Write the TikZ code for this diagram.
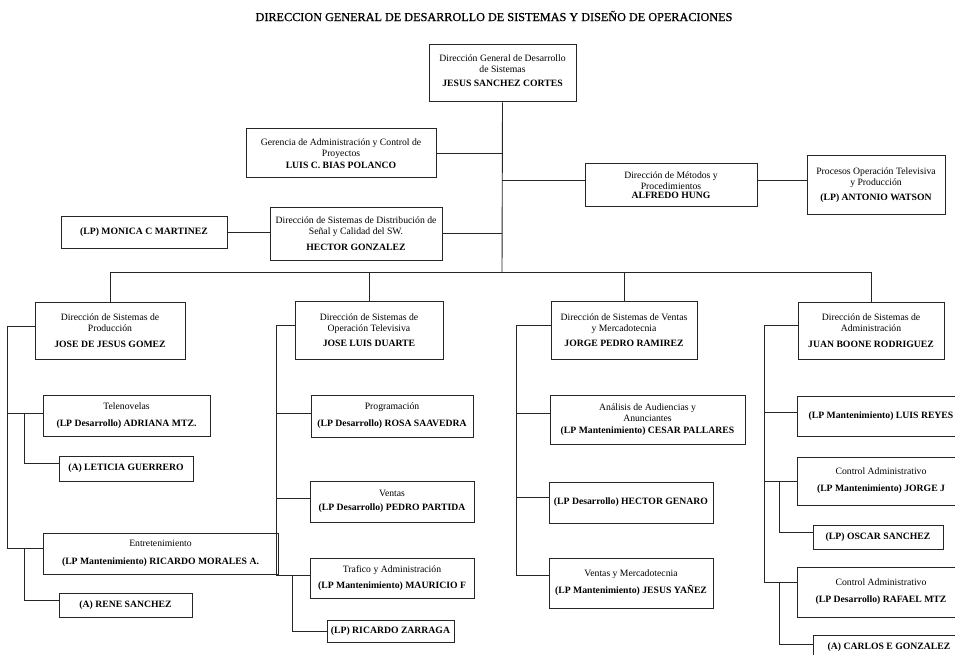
\documentclass[tikz,border=0pt]{standalone}
\usepackage{fontspec}
\setmainfont{Liberation Serif}
\newfontfamily\headfont[FakeBold=0.8]{Liberation Serif}
\newcommand{\bname}[1]{\textbf{#1}}
\tikzset{
  orgbox/.style={draw=black!85, line width=1pt, fill=white, inner sep=0pt, align=center,
    font=\fontsize{9.7}{11.2}\selectfont},
  link/.style={draw=black!85, line width=0.9pt},
}
\begin{document}
\begin{tikzpicture}[x=1pt,y=-1pt]
\useasboundingbox (0,0) rectangle (955,655);
\fill[white] (0,0) rectangle (955,655);
\clip (0,0) rectangle (955,655);

% title
\node[font=\headfont\fontsize{12.2}{14}\selectfont] (title) at (494,16)
  {DIRECCION GENERAL DE DESARROLLO DE SISTEMAS Y DISEÑO DE OPERACIONES};

% upper part of the chart
\node[orgbox, minimum width=147pt, minimum height=57pt] (top) at (502.5,73.5)
  {Dirección General de Desarrollo\\de Sistemas\\[3pt]\bname{JESUS SANCHEZ CORTES}\\[-5pt]};
\node[orgbox, minimum width=190pt, minimum height=49pt] (ger) at (341,153.5)
  {Gerencia de Administración y Control de\\Proyectos\\\bname{LUIS C. BIAS POLANCO}};
\node[orgbox, minimum width=172pt, minimum height=42pt] (met) at (671,185)
  {Dirección de Métodos y\\Procedimientos\\[-2.5pt]\bname{ALFREDO HUNG}};
\node[orgbox, minimum width=138pt, minimum height=58pt] (proc) at (876,185)
  {Procesos Operación Televisiva\\y Producción\\[4pt]\bname{(LP) ANTONIO WATSON}};
\node[orgbox, minimum width=172pt, minimum height=53pt] (dist) at (356,233.5)
  {Dirección de Sistemas de Distribución de\\Señal y Calidad del SW.\\[5pt]\bname{HECTOR GONZALEZ}};
\node[orgbox, minimum width=166pt, minimum height=32pt] (mon) at (144,232)
  {\bname{(LP) MONICA C MARTINEZ}};

% column 1
\node[orgbox, minimum width=150pt, minimum height=57pt] (d1) at (110,330.5)
  {Dirección de Sistemas de\\Producción\\[4pt]\bname{JOSE DE JESUS GOMEZ}};
\node[orgbox, minimum width=167pt, minimum height=41pt] (tel) at (126.5,415.5)
  {Telenovelas\\[6pt]\bname{(LP Desarrollo) ADRIANA MTZ.}};
\node[orgbox, minimum width=134pt, minimum height=25pt] (let) at (126,468.5)
  {\bname{(A) LETICIA GUERRERO}};
\node[orgbox, minimum width=235pt, minimum height=41pt] (ent) at (160.5,553.5)
  {Entretenimiento\\[7pt]\bname{(LP Mantenimiento) RICARDO MORALES A.}};
\node[orgbox, minimum width=133pt, minimum height=24pt] (ren) at (125.5,605)
  {\bname{(A) RENE SANCHEZ}};

% column 2
\node[orgbox, minimum width=148pt, minimum height=58pt] (d2) at (369,330)
  {Dirección de Sistemas de\\Operación Televisiva\\[4pt]\bname{JOSE LUIS DUARTE}};
\node[orgbox, minimum width=162pt, minimum height=42pt] (prog) at (392,416)
  {Programación\\[6pt]\bname{(LP Desarrollo) ROSA SAAVEDRA}};
\node[orgbox, minimum width=164pt, minimum height=41pt] (ven) at (392,501.5)
  {Ventas\\[3pt]\bname{(LP Desarrollo) PEDRO PARTIDA}};
\node[orgbox, minimum width=164pt, minimum height=40pt] (tra) at (392,578)
  {Trafico y Administración\\[5pt]\bname{(LP Mantenimiento) MAURICIO F}};
\node[orgbox, minimum width=127pt, minimum height=22pt] (zar) at (390.5,631)
  {\bname{(LP) RICARDO ZARRAGA}};

% column 3
\node[orgbox, minimum width=146pt, minimum height=58pt] (d3) at (624,330)
  {Dirección de Sistemas de Ventas\\y Mercadotecnia\\[4pt]\bname{JORGE PEDRO RAMIREZ}};
\node[orgbox, minimum width=195pt, minimum height=49pt] (ana) at (647.5,419.5)
  {Análisis de Audiencias y\\Anunciantes\\\bname{(LP Mantenimiento) CESAR PALLARES}};
\node[orgbox, minimum width=164pt, minimum height=41pt] (hg) at (631,502.5)
  {\bname{(LP Desarrollo) HECTOR GENARO}};
\node[orgbox, minimum width=164pt, minimum height=50pt] (vm) at (631,583)
  {Ventas y Mercadotecnia\\[6pt]\bname{(LP Mantenimiento) JESUS YAÑEZ}};

% column 4
\node[orgbox, minimum width=146pt, minimum height=57pt] (d4) at (871,330.5)
  {Dirección de Sistemas de\\Administración\\[4pt]\bname{JUAN BOONE RODRIGUEZ}};
\node[orgbox, minimum width=168pt, minimum height=40pt] (lr) at (881,416)
  {\bname{(LP Mantenimiento) LUIS REYES}};
\node[orgbox, minimum width=168pt, minimum height=48pt] (ca1) at (881,481)
  {Control Administrativo\\[6pt]\bname{(LP Mantenimiento) JORGE J}};
\node[orgbox, minimum width=130pt, minimum height=24pt] (osc) at (878,537)
  {\bname{(LP) OSCAR SANCHEZ}};
\node[orgbox, minimum width=168pt, minimum height=50pt] (ca2) at (881,592)
  {Control Administrativo\\[6pt]\bname{(LP Desarrollo) RAFAEL MTZ}};
\node[orgbox, minimum width=152pt, minimum height=25pt] (car) at (889,647.5)
  {\bname{(A) CARLOS E GONZALEZ}};

% trunk and bus
\coordinate (bus) at (502,272);
\draw[link] (top.south) -- (bus);
\draw[link] (d1.north) |- (bus);
\draw[link] (d4.north) |- (bus);
\draw[link] (d2.north) -- (d2.north |- bus);
\draw[link] (d3.north) -- (d3.north |- bus);
\draw[link] (ger.east) -- (ger.east -| bus);
\draw[link] (dist.east) -- (dist.east -| bus);
\draw[link] ([yshift=5pt]met.west) -- ++(-83,0);
\draw[link] ([yshift=5pt]met.east) -- ([yshift=5pt]proc.west);
\draw[link] (mon.east) -- (mon.east -| dist.west);

% column 1 connectors
\draw[link] ([yshift=4.5pt]d1.west) -- ++(-27,0) |- ([yshift=5.5pt]ent.west);
\draw[link] ([yshift=2.5pt]tel.west) -- ++(-35,0);
\draw[link] ([yshift=2.5pt]tel.west) ++(-18,0) |- ([yshift=5pt]let.west);
\draw[link] ([yshift=5.5pt]ent.west) ++(-18,0) |- ([yshift=5pt]ren.west);

% column 2 connectors
\draw[link] ([yshift=5pt]d2.west) -- ++(-18,0) |- ([yshift=3pt]tra.west);
\draw[link] ([yshift=3pt]prog.west) -- ++(-34,0);
\draw[link] ([yshift=3.5pt]ven.west) -- ++(-33,0);
\draw[link] ([yshift=3pt]tra.west) ++(-17,0) |- (zar.west);

% column 3 connectors
\draw[link] ([yshift=5pt]d3.west) -- ++(-34,0) |- ([yshift=8pt]vm.west);
\draw[link] ([yshift=6.5pt]ana.west) -- ++(-33,0);
\draw[link] ([yshift=5.5pt]hg.west) -- ++(-32,0);

% column 4 connectors
\draw[link] ([yshift=5.5pt]d4.west) -- ++(-33,0) |- ([yshift=10pt]ca2.west);
\draw[link] ([yshift=4pt]lr.west) -- ++(-32,0);
\draw[link] (ca1.west) -- ++(-32,0);
\draw[link] (ca1.west) ++(-17,0) |- ([yshift=5pt]osc.west);
\draw[link] ([yshift=10pt]ca2.west) ++(-17,0) |- ([yshift=3.5pt]car.west);
\end{tikzpicture}
\end{document}
